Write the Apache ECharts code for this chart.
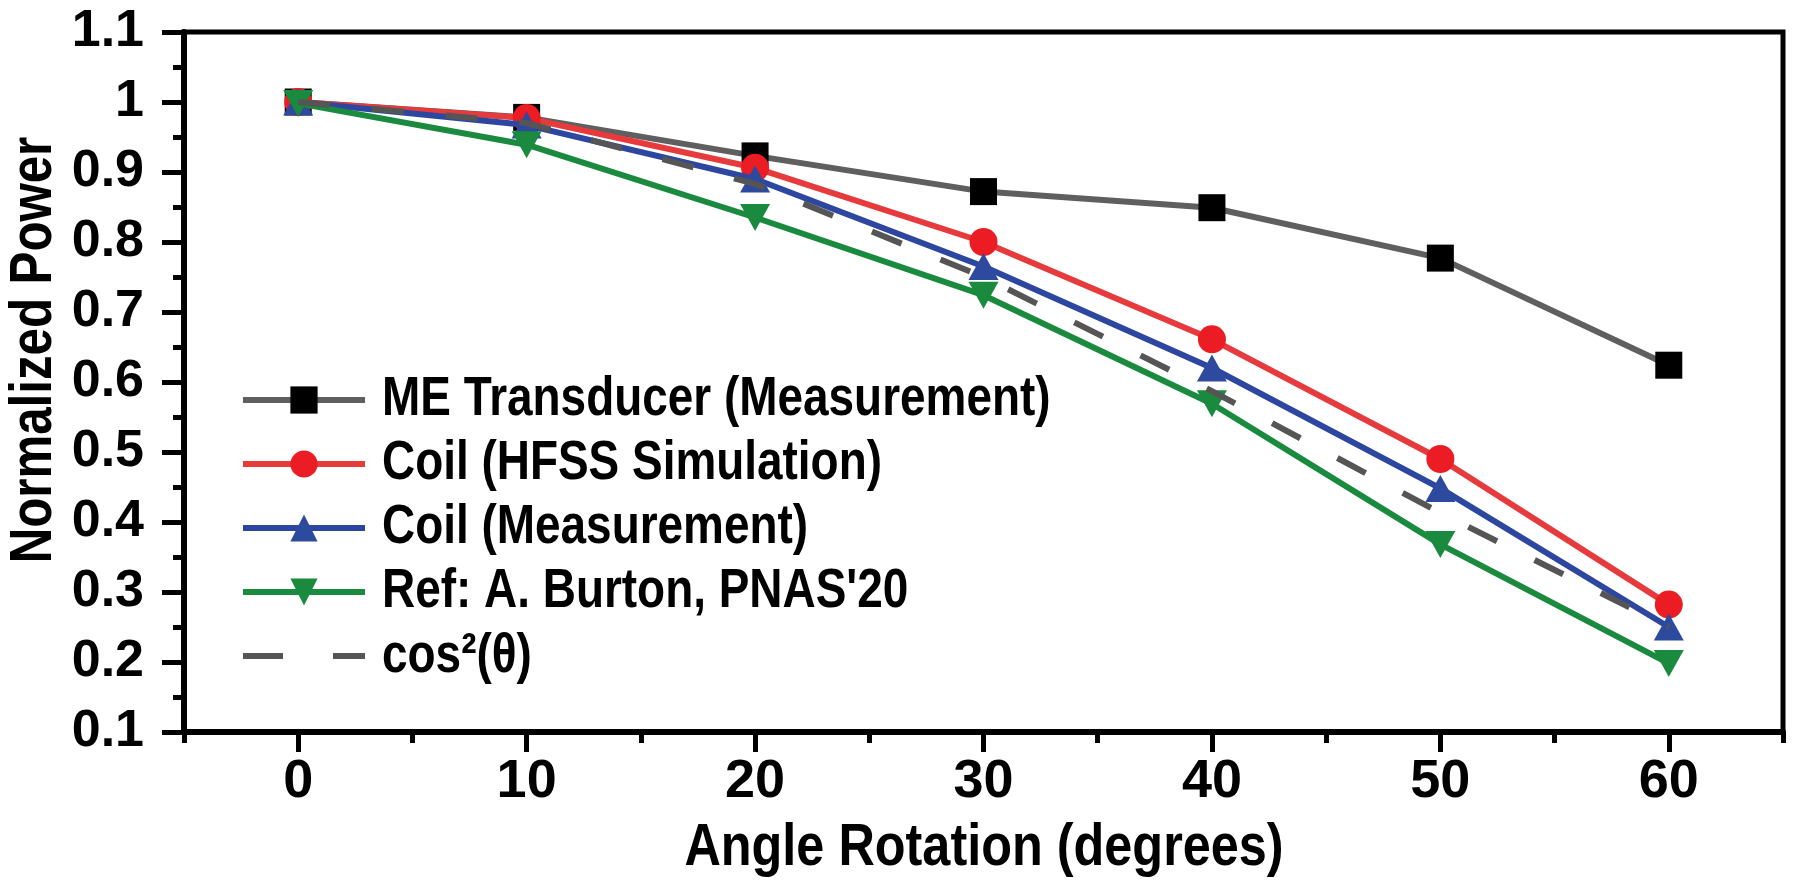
<!DOCTYPE html>
<html>
<head>
<meta charset="utf-8">
<script src="https://cdn.jsdelivr.net/npm/echarts@6/dist/echarts.min.js"></script>
<style>
html,body{margin:0;padding:0;background:#fff;}
#chart{width:1800px;height:894px;}
</style>
</head>
<body>
<div id="chart"></div>
<script>
const angles = [0, 10, 20, 30, 40, 50, 60];
const meTransducer = [1.0, 0.978, 0.923, 0.872, 0.849, 0.777, 0.624];
const coilHfss = [1.0, 0.977, 0.906, 0.800, 0.661, 0.490, 0.282];
const coilMeas = [1.0, 0.967, 0.890, 0.765, 0.620, 0.448, 0.250];
const burton = [0.998, 0.939, 0.835, 0.724, 0.569, 0.368, 0.198];
const cosSquared = [1.0, 0.970, 0.883, 0.750, 0.587, 0.413, 0.250];
const seriesNames = ['ME Transducer (Measurement)', 'Coil (HFSS Simulation)', 'Coil (Measurement)', "Ref: A. Burton, PNAS'20", 'cos\u00B2(\u03B8)'];
const xMajorTicks = [0, 10, 20, 30, 40, 50, 60];
const xMinorTicks = [-5, 5, 15, 25, 35, 45, 55, 65];
const xTitle = 'Angle Rotation (degrees)';
const yTitle = 'Normalized Power';

const FONT = "'Liberation Sans', Arial, sans-serif";
const SQUEEZE = 0.82;

function pairs(vals) { return angles.map((a, i) => [a, vals[i]]); }

const chart = echarts.init(document.getElementById('chart'), null, {renderer: 'canvas'});
const downTri = 'path://M0,0 L10,0 L5,9 Z';
const upTri = 'path://M5,0 L10,9 L0,9 Z';

const legendRowY = [400, 464, 528, 592, 657];
const legendLabels = seriesNames.map((name, i) => ({
  type: 'text', x: 382, y: legendRowY[i], scaleX: SQUEEZE,
  style: {text: name, fontFamily: FONT, fontWeight: 'bold', fontSize: 56, fill: '#000', align: 'left', verticalAlign: 'middle'}
}));

chart.setOption({
  backgroundColor: '#ffffff',
  animation: false,
  grid: {left: 184, right: 17, top: 32, bottom: 162, show: true, borderColor: '#000', borderWidth: 5, backgroundColor: 'transparent'},
  legend: {
    orient: 'vertical', left: 235, top: 378,
    itemWidth: 122, itemHeight: 34, itemGap: 30,
    formatter: () => ' ',
    lineStyle: {width: 6},
    textStyle: {fontFamily: FONT, fontSize: 30, lineHeight: 34, color: '#000'},
    data: [
      {name: seriesNames[0]},
      {name: seriesNames[1]},
      {name: seriesNames[2]},
      {name: seriesNames[3]},
      {name: seriesNames[4], itemStyle: {color: 'rgba(0,0,0,0)', borderWidth: 0}, lineStyle: {width: 6, type: [40, 50]}}
    ]
  },
  xAxis: [{
    type: 'value', min: -5, max: 65, interval: 5, position: 'bottom',
    axisLine: {show: true, onZero: false, lineStyle: {color: '#000', width: 6}},
    axisTick: {show: true, customValues: xMajorTicks, length: 20, lineStyle: {color: '#000', width: 5}},
    axisLabel: {customValues: xMajorTicks, margin: 23, fontFamily: FONT, fontWeight: 'bold', fontSize: 54, color: '#000'},
    splitLine: {show: false}
  }, {
    type: 'value', min: -5, max: 65, interval: 5, position: 'bottom', offset: 0,
    axisLine: {show: false, onZero: false},
    axisTick: {show: true, customValues: xMinorTicks, length: 11, lineStyle: {color: '#000', width: 5}},
    axisLabel: {show: false},
    splitLine: {show: false}
  }],
  yAxis: {
    type: 'value', min: 0.1, max: 1.1, interval: 0.1,
    axisLine: {show: true, onZero: false, lineStyle: {color: '#000', width: 6}},
    axisTick: {show: true, length: 22, lineStyle: {color: '#000', width: 5}},
    minorTick: {show: true, splitNumber: 2, length: 11, lineStyle: {color: '#000', width: 5}},
    axisLabel: {margin: 40, fontFamily: FONT, fontWeight: 'bold', fontSize: 52, color: '#000',
      formatter: v => String(Math.round(v * 10) / 10)},
    splitLine: {show: false}
  },
  graphic: [{
    type: 'text', x: 34, y: 350, rotation: Math.PI / 2, scaleX: SQUEEZE,
    style: {text: yTitle, fontFamily: FONT, fontWeight: 'bold', fontSize: 60, fill: '#000', align: 'center', verticalAlign: 'middle'}
  }, {
    type: 'text', x: 984, y: 848, scaleX: 0.84,
    style: {text: xTitle, fontFamily: FONT, fontWeight: 'bold', fontSize: 60, fill: '#000', align: 'center', verticalAlign: 'middle'}
  }].concat(legendLabels),
  series: [{
    name: seriesNames[0], type: 'line', data: pairs(meTransducer),
    symbol: 'rect', symbolSize: 27, z: 2,
    lineStyle: {color: '#5f5f5f', width: 6}, itemStyle: {color: '#000'}
  }, {
    name: seriesNames[1], type: 'line', data: pairs(coilHfss),
    symbol: 'circle', symbolSize: 28, z: 3,
    lineStyle: {color: '#e63a3c', width: 6}, itemStyle: {color: '#ec1c24'}
  }, {
    name: seriesNames[2], type: 'line', data: pairs(coilMeas),
    symbol: upTri, symbolSize: [30, 27], z: 4,
    lineStyle: {color: '#2d47a0', width: 6}, itemStyle: {color: '#2e4a9e'}
  }, {
    name: seriesNames[3], type: 'line', data: pairs(burton),
    symbol: downTri, symbolSize: [30, 27], z: 5,
    lineStyle: {color: '#1a8a3e', width: 6}, itemStyle: {color: '#1a8a3e'}
  }, {
    name: seriesNames[4], type: 'line', data: pairs(cosSquared),
    symbol: 'none', z: 6,
    lineStyle: {color: '#555', width: 6, type: [32, 42]}, itemStyle: {color: '#555'}
  }]
});
</script>
</body>
</html>
